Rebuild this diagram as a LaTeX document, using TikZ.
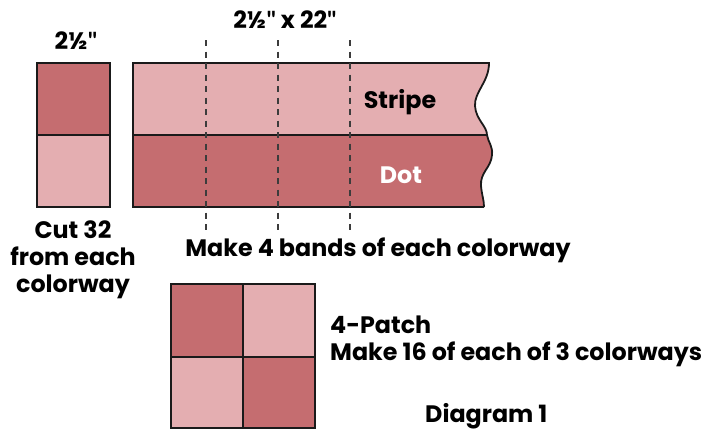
\documentclass[tikz,border=0pt]{standalone}
\usepackage{fontspec}
\setmainfont{Poppins}
\newfontfamily\markfont{Lato}
\definecolor{darkrose}{HTML}{C56D70}
\definecolor{lightrose}{HTML}{E4AEB1}
\definecolor{edge}{HTML}{1A1A1A}
\newcommand{\inchmark}{{\markfont\bfseries\char"0022\relax}}
\begin{document}
\begin{tikzpicture}[x=1pt,y=-1pt,
  patch/.style={draw=edge,line width=1.8pt,line join=miter},
  cutline/.style={draw=edge!85,line width=1.6pt,dash pattern=on 6pt off 5.5pt},
  lbl/.style={font=\fontsize{23.8}{27}\selectfont\bfseries,inner sep=0pt,text=black},
]
\useasboundingbox (0,0) rectangle (725,432);
% small strip
\fill[darkrose] (37,63) rectangle (110,135);
\fill[lightrose] (37,135) rectangle (110,207);
\draw[patch] (37,63) rectangle (110,207);
\draw[patch] (37,135) -- (110,135);
% band
\fill[lightrose] (133,63) -- (489,63) .. controls (489,82) and (474,92) .. (475,106) .. controls (476,120) and (487,126) .. (487,135) -- (133,135) -- cycle;
\fill[darkrose] (133,135) -- (487,135) .. controls (488,142) and (493,146) .. (492,155) .. controls (491,168) and (480,172) .. (481,186) .. controls (482,196) and (484,200) .. (484,207) -- (133,207) -- cycle;
\draw[patch] (484,207) -- (133,207) -- (133,63) -- (489,63) .. controls (489,82) and (474,92) .. (475,106) .. controls (476,120) and (487,126) .. (487,135) .. controls (488,142) and (493,146) .. (492,155) .. controls (491,168) and (480,172) .. (481,186) .. controls (482,196) and (484,200) .. (484,207);
\draw[patch] (133,135) -- (487,135);
% dashed cut lines
\foreach \xx in {206,278,350} \draw[cutline] (\xx,40) -- (\xx,232);
% four patch
\fill[darkrose] (171,284) rectangle (243,357);
\fill[lightrose] (243,284) rectangle (315,357);
\fill[lightrose] (171,357) rectangle (243,428);
\fill[darkrose] (243,357) rectangle (315,428);
\draw[patch] (171,284) rectangle (315,428);
\draw[patch] (243,284) -- (243,428);
\draw[patch] (171,357) -- (315,357);
% labels
\node[lbl] (w1) at (76,41) {2½\inchmark};
\node[lbl] (w2) at (285,20) {2½\inchmark{} x 22\inchmark};
\node[lbl] (stripe) at (400,102) {Stripe};
\node[lbl,text=white] (dot) at (401,175) {Dot};
\node[lbl,align=center] (cut) at (73,260) {Cut 32\\from each\\colorway};
\node[lbl] (bands) at (378,250) {Make 4 bands of each colorway};
\node[lbl,anchor=west] (fp) at (330,325) {4-Patch};
\node[lbl,anchor=west] (m16) at (330,354) {Make 16 of each of 3 colorways};
\node[lbl,anchor=west] (dg) at (425,416) {Diagram 1};
\end{tikzpicture}
\end{document}
